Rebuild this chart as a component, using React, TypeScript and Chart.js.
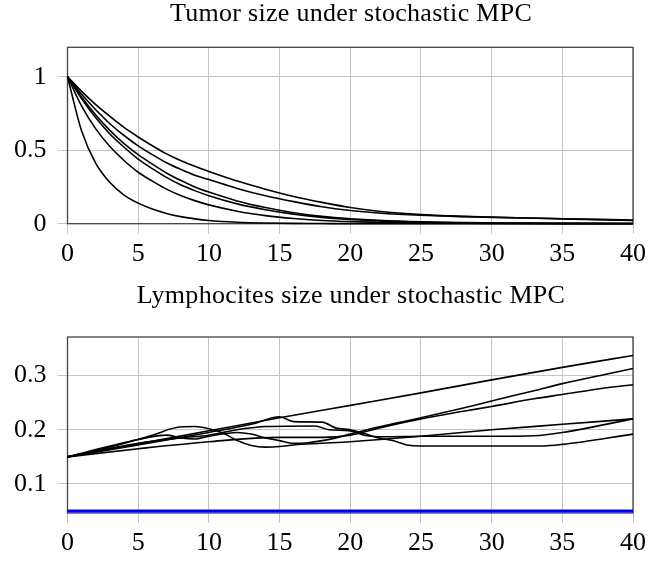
import React, { useEffect, useRef } from "react";
import { Chart, registerables } from "chart.js";

Chart.register(...registerables);

// ---------- data ----------
const xTicks = [0, 5, 10, 15, 20, 25, 30, 35, 40];
const tumorYTicks = [0, 0.5, 1];
const lymphYTicks = [0.1, 0.2, 0.3];

const tumorTitle = "Tumor size under stochastic MPC";
const lymphTitle = "Lymphocites size under stochastic MPC";

// tumour trajectories (x = time, y = size)
const tumorX = [0, 1, 2, 3, 4, 5, 6, 7, 8, 9, 10, 12, 14, 16, 18, 20, 22, 25, 28, 31, 35, 40];
const tumorA = [1, 0.9, 0.81, 0.73, 0.655, 0.59, 0.53, 0.475, 0.43, 0.39, 0.355, 0.29, 0.235, 0.185, 0.145, 0.11, 0.085, 0.062, 0.05, 0.042, 0.034, 0.025];
const tumorB = [1, 0.88, 0.775, 0.68, 0.6, 0.53, 0.47, 0.415, 0.37, 0.33, 0.3, 0.24, 0.19, 0.15, 0.115, 0.09, 0.073, 0.057, 0.048, 0.041, 0.033, 0.022];
const tumorC = [1, 0.86, 0.74, 0.635, 0.545, 0.47, 0.405, 0.345, 0.295, 0.25, 0.215, 0.155, 0.11, 0.075, 0.05, 0.034, 0.023, 0.013, 0.008, 0.005, 0.003, 0.002];
const tumorD = [1, 0.85, 0.72, 0.61, 0.52, 0.44, 0.375, 0.315, 0.265, 0.225, 0.19, 0.135, 0.095, 0.065, 0.043, 0.029, 0.019, 0.01, 0.006, 0.004, 0.002, 0.001];
const tumorE = [1, 0.8, 0.645, 0.525, 0.43, 0.35, 0.29, 0.235, 0.192, 0.157, 0.128, 0.085, 0.055, 0.035, 0.022, 0.014, 0.009, 0.005, 0.003, 0.0015, 0.0007, 0];
const tumorF = [1, 0.63, 0.41, 0.28, 0.195, 0.14, 0.1, 0.07, 0.048, 0.033, 0.022, 0.01, 0.0045, 0.002, 0.001, 0, 0, 0, 0, 0, 0, 0];

// lymphocyte trajectories: x / y lists
const lymphL1X = [0, 5, 10, 15, 20, 25, 30, 35, 40];
const lymphL1Y = [0.15, 0.174, 0.198, 0.222, 0.245, 0.268, 0.292, 0.315, 0.337];

const lymphL2X = [0, 5, 10, 13, 15, 16, 18, 19, 20, 21, 22, 23, 24, 25, 30, 33.5, 35, 40];
const lymphL2Y = [0.15, 0.172, 0.195, 0.21, 0.224, 0.215, 0.214, 0.203, 0.2, 0.193, 0.185, 0.18, 0.172, 0.17, 0.17, 0.17, 0.173, 0.192];

const lymphL3X = [0, 5, 8, 10, 12, 14, 17.5, 18.5, 20, 21, 22.5, 25, 30, 33, 35, 40];
const lymphL3Y = [0.15, 0.175, 0.185, 0.19, 0.2, 0.206, 0.207, 0.2, 0.198, 0.19, 0.187, 0.188, 0.188, 0.189, 0.195, 0.22];

const lymphL4X = [0, 3, 6, 7.7, 9, 10, 11, 12, 13, 14, 15, 16, 18, 20, 25, 30, 35, 40];
const lymphL4Y = [0.15, 0.168, 0.19, 0.204, 0.206, 0.202, 0.194, 0.18, 0.171, 0.168, 0.169, 0.172, 0.175, 0.178, 0.188, 0.2, 0.21, 0.22];

const lymphL5X = [0, 5, 7, 8, 9, 10, 12, 13, 14, 15, 16, 17, 19, 20, 22, 25, 28, 30, 33, 35, 38, 40];
const lymphL5Y = [0.15, 0.182, 0.19, 0.185, 0.183, 0.188, 0.195, 0.192, 0.185, 0.18, 0.175, 0.176, 0.185, 0.192, 0.205, 0.222, 0.24, 0.253, 0.272, 0.285, 0.302, 0.313];

const lymphL6X = [0, 5, 10, 15, 17, 18, 20, 22, 25, 28, 30, 33, 35, 38, 40];
const lymphL6Y = [0.15, 0.165, 0.178, 0.186, 0.186, 0.186, 0.19, 0.203, 0.22, 0.234, 0.243, 0.257, 0.265, 0.277, 0.283];

const lowerBoundX = [0, 40];
const lowerBoundY = [0.05, 0.05];

// ---------- helpers ----------
const zip = (xs: number[], ys: number[]) => xs.map((x, i) => ({ x, y: ys[i] }));

const FONT = "'Liberation Serif', 'Times New Roman', serif";

type Cfg = {
  height: number;
  title: string;
  titleBaseline: number;
  areaTop: number;
  areaBottom: number;
  yMin: number;
  yMax: number;
  yTicks: number[];
  datasets: any[];
};

function buildChart(canvas: HTMLCanvasElement, cfg: Cfg) {
  const titlePlugin = {
    id: "customTitle",
    afterDraw(chart: any) {
      const ctx = chart.ctx;
      ctx.save();
      ctx.font = `26px ${FONT}`;
      try {
        (ctx as any).letterSpacing = "0.3px";
      } catch (e) {}
      ctx.fillStyle = "#000";
      ctx.textAlign = "center";
      ctx.textBaseline = "alphabetic";
      ctx.fillText(cfg.title, 351, cfg.titleBaseline);
      ctx.restore();
    },
  };
  const framePlugin = {
    id: "frame",
    beforeDatasetsDraw(chart: any) {
      const { ctx, chartArea } = chart;
      ctx.save();
      ctx.strokeStyle = "#444";
      ctx.lineWidth = 1.3;
      ctx.strokeRect(chartArea.left, chartArea.top, chartArea.right - chartArea.left, chartArea.bottom - chartArea.top);
      ctx.restore();
    },
  };

  return new Chart(canvas, {
    type: "line",
    data: { datasets: cfg.datasets },
    plugins: [titlePlugin, framePlugin],
    options: {
      animation: false,
      responsive: false,
      devicePixelRatio: 1,
      layout: { padding: { top: cfg.areaTop, right: 33, left: 0, bottom: 0 } },
      plugins: { legend: { display: false }, tooltip: { enabled: false }, title: { display: false } },
      elements: { point: { radius: 0 } },
      scales: {
        x: {
          type: "linear",
          min: 0,
          max: 40,
          afterBuildTicks: (s: any) => {
            s.ticks = xTicks.map((v) => ({ value: v }));
          },
          afterFit: (s: any) => {
            s.height = cfg.height - cfg.areaBottom;
          },
          ticks: {
            autoSkip: false,
            maxRotation: 0,
            padding: 5,
            color: "#000",
            font: { family: FONT, size: 26 },
            callback: (v: any) => String(v),
          },
          grid: { color: "#c4c4c4", lineWidth: 1, tickLength: 10, drawTicks: true },
          border: { display: false },
        },
        y: {
          type: "linear",
          min: cfg.yMin,
          max: cfg.yMax,
          afterBuildTicks: (s: any) => {
            s.ticks = cfg.yTicks.map((v) => ({ value: v }));
          },
          afterFit: (s: any) => {
            s.width = 67.5;
          },
          ticks: {
            padding: 11,
            color: "#000",
            font: { family: FONT, size: 26 },
            callback: (v: any) => String(Math.round(Number(v) * 10) / 10),
          },
          grid: { color: "#c4c4c4", lineWidth: 1, tickLength: 10, drawTicks: true },
          border: { display: false },
        },
      },
    } as any,
  });
}

const blackLine = (data: { x: number; y: number }[]) => ({
  data,
  borderColor: "#000",
  borderWidth: 1.6,
  pointRadius: 0,
  cubicInterpolationMode: "monotone",
  fill: false,
  clip: false,
});

export default function App() {
  const ref1 = useRef<HTMLCanvasElement>(null);
  const ref2 = useRef<HTMLCanvasElement>(null);

  useEffect(() => {
    const c1 = buildChart(ref1.current!, {
      height: 281,
      title: tumorTitle,
      titleBaseline: 21,
      areaTop: 47.3,
      areaBottom: 223.7,
      yMin: 0,
      yMax: 1.2,
      yTicks: tumorYTicks,
      datasets: [tumorA, tumorB, tumorC, tumorD, tumorE, tumorF].map((ys) => blackLine(zip(tumorX, ys))),
    });
    const c2 = buildChart(ref2.current!, {
      height: 280,
      title: lymphTitle,
      titleBaseline: 22,
      areaTop: 56,
      areaBottom: 232,
      yMin: 0.0465,
      yMax: 0.371,
      yTicks: lymphYTicks,
      datasets: [
        blackLine(zip(lymphL1X, lymphL1Y)),
        blackLine(zip(lymphL2X, lymphL2Y)),
        blackLine(zip(lymphL3X, lymphL3Y)),
        blackLine(zip(lymphL4X, lymphL4Y)),
        blackLine(zip(lymphL5X, lymphL5Y)),
        blackLine(zip(lymphL6X, lymphL6Y)),
        {
          data: zip(lowerBoundX, lowerBoundY),
          borderColor: "#0000ff",
          borderWidth: 3,
          pointRadius: 0,
          fill: false,
          clip: false,
        },
      ],
    });
    return () => {
      c1.destroy();
      c2.destroy();
    };
  }, []);

  return (
    <div style={{ position: "absolute", left: 0, top: 0, width: 666, height: 561, background: "#fff" }}>
      <canvas ref={ref1} width={666} height={281} style={{ display: "block", width: 666, height: 281 }} />
      <canvas ref={ref2} width={666} height={280} style={{ display: "block", width: 666, height: 280 }} />
    </div>
  );
}
